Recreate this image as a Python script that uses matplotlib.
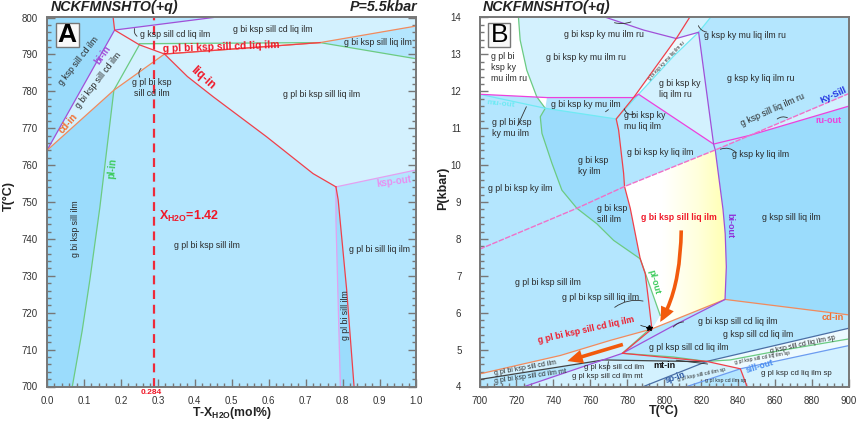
import matplotlib
matplotlib.use('Agg')
import matplotlib.pyplot as plt
from matplotlib.colors import LinearSegmentedColormap
from matplotlib.patches import FancyArrowPatch, Polygon, Rectangle
from matplotlib.path import Path
from matplotlib.ticker import MultipleLocator
import numpy as np

plt.rcParams['font.family'] = ['Liberation Sans', 'DejaVu Sans']
plt.rcParams['mathtext.fontset'] = 'custom'
plt.rcParams['mathtext.rm'] = 'Liberation Sans:bold'
plt.rcParams['mathtext.bf'] = 'Liberation Sans:bold'

DARK = '#9BDCFC'
MID = '#B4E6FE'
LIGHT = '#D3F1FE'
PALE = '#EDFAFF'
RED = '#F0404A'
GREEN = '#6CCB82'
ORANGE = '#F28A5C'
PURPLE = '#A050D8'
PINK = '#E4A0F0'
MAGENTA = '#EE40DC'
CYAN = '#70EAF4'
TXT = '#2A2A2A'

# panel A boundaries (X, T)
a_liq_top = [(0.179, 800), (0.183, 796.6), (0.25, 792.6), (0.318, 790.1)]
a_liq_in = [(0.318, 790.1), (0.38, 784), (0.45, 778.5), (0.594, 767.7), (0.72, 757.7), (0.782, 754.1)]
a_liq_low = [(0.782, 754.1), (0.788, 750.6), (0.811, 726.2), (0.831, 700)]
a_liq_flat = [(0.318, 790.1), (0.739, 793.2)]
a_bi_in = [(0, 764), (0.183, 796.6), (0.45, 800)]
a_cd_in = [(0, 764), (0.181, 780.3), (0.318, 790.1)]
a_cd_right = [(0.318, 790.1), (0.739, 793.2), (1.0, 797.7)]
a_pl_in = [(0.25, 792.6), (0.181, 780.3), (0.143, 748.5), (0.116, 728.9), (0.095, 715), (0.0685, 700)]
a_pl_right = [(0.25, 792.9), (0.739, 793.2), (1.0, 788.8)]
a_ksp_out = [(1.0, 758.7), (0.782, 754.1), (0.782, 745), (0.794, 700)]
a_dash_x = 0.2886

# panel A fields, in draw order
a_fields = [
    (MID, [(0, 700), (1, 700), (1, 800), (0, 800)]),
    (DARK, [(0, 800), (0.179, 800), (0.183, 796.6), (0, 764)]),
    (MID, [(0.179, 800), (0.45, 800), (0.183, 796.6)]),
    (LIGHT, [(0.183, 796.6), (0.45, 800), (1, 800), (1, 797.7), (0.739, 793.2), (0.25, 792.6)]),
    (MID, [(0.739, 793.2), (1, 797.7), (1, 788.8)]),
    (LIGHT, [(0.318, 790.1), (0.739, 793.2), (1, 788.8), (1, 758.7)] + a_liq_in[::-1]),
    (PALE, [(0.25, 792.6), (0.739, 793.2), (0.318, 790.1)]),
    (LIGHT, [(0.25, 792.6), (0.318, 790.1), (0.181, 780.3)]),
    (LIGHT, [(0.183, 796.6), (0.25, 792.6), (0.181, 780.3), (0, 764)]),
    (DARK, [(0, 764), (0.181, 780.3)] + a_pl_in[2:] + [(0, 700)]),
    (DARK, [(0.782, 754.1), (0.782, 745), (0.794, 700), (0.831, 700), (0.811, 726.2), (0.788, 750.6)]),
]

a_labels = [
    ('g ksp sill cd ilm', 0.085, 788.2, 52), ('g bi ksp sill cd ilm', 0.139, 783, 52),
    ('g ksp sill cd liq ilm', 0.347, 795.5, 0), ('g bi ksp sill cd liq ilm', 0.612, 796.7, 0),
    ('g bi ksp sill liq ilm', 0.895, 793.3, 0), ('g pl bi ksp\nsill cd ilm', 0.283, 780.8, 0),
    ('g pl bi ksp sill liq ilm', 0.744, 779, 0), ('g bi ksp sill ilm', 0.076, 742.9, 90),
    ('g pl bi ksp sill ilm', 0.432, 738.3, 0), ('g pl bi sill liq ilm', 0.90, 737, 0),
    ('g pl bi sill ilm', 0.808, 719.4, 90),
]
a_bold = [
    ('bi-in', 0.151, 789.8, 55, PURPLE, 7), ('cd-in', 0.056, 771.3, 48, '#F27030', 7),
    ('pl-in', 0.178, 759, 85, '#3CCB5C', 7), ('liq-in', 0.421, 783.5, -42, '#F01828', 8.5),
    ('g pl bi ksp sill cd liq ilm', 0.4725, 792, 2, '#F01828', 7.4),
    ('ksp-out', 0.939, 755.6, 8, '#E890F0', 7),
]

# panel B boundaries (T, P)
b_green = [(721.1, 14), (722, 13.39), (725.6, 12.57), (731, 11.85), (735.6, 11.54), (732.9, 11.31), (733.8, 10.86),
           (739.2, 10.05), (744.6, 9.32), (752.7, 8.83), (763.5, 8.41), (772.6, 7.96), (787, 7.46)]
b_pl_out = [(787, 7.46), (797.8, 5.93)]
b_cyan_left = [(700, 11.92), (735.6, 11.54), (774, 11.25)]
b_cyan_right = [(774, 11.25), (786.1, 11.92), (805, 12.95), (818.6, 13.6), (825, 14)]
b_magenta = [(700, 11.92), (736.5, 11.83), (783.4, 11.83), (786.1, 11.92), (826.7, 10.57), (846.6, 10.81), (900, 11.6)]
b_kysill = [(700, 7.72), (752.7, 8.83), (778.5, 9.42), (827.6, 10.41), (846.6, 10.81), (900, 11.94)]
b_red = [(813.7, 14), (806.5, 13.43), (783.4, 11.83), (774, 11.25), (775.3, 10.95), (778, 9.78), (778.5, 9.42),
         (781.6, 8.83), (787, 7.46), (789.7, 7.06), (791.5, 6.33), (793.3, 5.56)]
b_red_wedge = [(793.3, 5.56), (777.4, 4.9)]
b_red_low = [(777.4, 4.9), (823, 4.68), (841.2, 4.48), (844.8, 4.0)]
b_purple = [(768.6, 14), (788.8, 13.66), (806.5, 13.43), (818.6, 13.6), (826.7, 10.57), (827.6, 10.41),
            (831.8, 8.8), (833, 8.14), (833.6, 7.24), (832.9, 6.36), (805, 5.65), (777.4, 4.9), (724.4, 4)]
b_orange = [(700, 4.34), (743.7, 4.84), (770.8, 5.25), (793.3, 5.56), (832.9, 6.36), (900, 5.94)]
b_mt_in = [(700, 4.19), (767.2, 4.72), (823, 4.67)]
b_green_low = [(777.4, 4.9), (805, 4.8), (823, 4.68), (835.7, 4.72), (860, 4.95), (900, 5.29)]
b_green_wedge = [(778, 4.93), (793.3, 5.61)]
b_sp_in = [(788.8, 4), (823, 4.68), (900, 5.58)]
b_sill_out = [(812.3, 4), (841.2, 4.48), (900, 5.11)]

b_fields = [
    (MID, [(700, 4), (900, 4), (900, 14), (700, 14)]),
    ('#FFFFFF', [(700, 14)] + b_green[:5] + [(736.5, 11.83), (700, 11.92)]),
    (LIGHT, b_green[:4] + [(733.5, 11.83), (783.4, 11.83), (806.5, 13.43), (813.7, 14)]),
    (DARK, b_green[4:] + [(781.6, 8.83), (778.5, 9.42), (778, 9.78), (775.3, 10.95), (774, 11.25)]),
    (LIGHT, [(786.1, 11.92), (805, 12.95), (818.6, 13.6), (826.7, 10.57)]),
    (PALE, [(783.4, 11.83), (786.1, 11.92), (805, 12.95), (818.6, 13.6), (806.5, 13.43)]),
    (LIGHT, [(813.7, 14), (825, 14), (818.6, 13.6), (806.5, 13.43)]),
    (DARK, [(827.6, 10.41), (846.6, 10.81), (900, 11.6), (900, 5.94), (832.9, 6.36), (833.6, 7.24), (833, 8.14), (831.8, 8.8)]),
    (LIGHT, [(846.6, 10.81), (900, 11.94), (900, 11.6)]),
    (LIGHT, [(787, 7.46), (797.8, 5.93), (793.3, 5.56), (791.5, 6.33), (789.7, 7.06)]),
    (LIGHT, [(700, 4.34), (743.7, 4.84), (770.8, 5.25), (793.3, 5.56), (777.4, 4.9), (767.2, 4.72), (700, 4.19)]),
    (LIGHT, [(724.4, 4), (788.8, 4), (823, 4.68), (767.2, 4.72), (777.4, 4.9)]),
    (LIGHT, [(788.8, 4), (812.3, 4), (841.2, 4.48), (823, 4.68)]),
    (PALE, [(823, 4.68), (900, 5.58), (900, 5.29), (860, 4.95), (835.7, 4.72)]),
    (PALE, [(823, 4.68), (835.7, 4.72), (860, 4.95), (900, 5.29), (900, 5.11), (841.2, 4.48)]),
    (LIGHT, [(844.8, 4), (900, 4), (900, 5.11), (841.2, 4.48)]),
]
# white to yellow field g bi ksp sill liq ilm
b_yellow = [(778.5, 9.42), (827.6, 10.41), (831.8, 8.8), (833, 8.14), (833.6, 7.24), (832.9, 6.36), (793.3, 5.56),
            (797.8, 5.93), (787, 7.46), (781.6, 8.83)]

b_labels = [
    ('g bi ksp ky mu ilm ru', 767.3, 13.54, 0, 6.3), ('g ksp ky mu liq ilm ru', 843.7, 13.5, 0, 6.3),
    ('g bi ksp ky mu ilm ru', 757.8, 12.92, 0, 6.3), ('g ksp ky liq ilm ru', 852.3, 12.35, 0, 6.3),
    ('g bi ksp ky mu liq ilm ru', 801.4, 12.82, 47, 3.4), ('g bi ksp ky mu ilm', 757.6, 11.65, 0, 6.3),
    ('g ksp sill liq ilm ru', 858.8, 11.49, 24, 6.3), ('g bi ksp ky liq ilm', 797.8, 10.35, 0, 6.3),
    ('g ksp ky liq ilm', 852, 10.29, 0, 6.3), ('g pl bi ksp ky ilm', 722, 9.37, 0, 6.3),
    ('g ksp sill liq ilm', 868.8, 8.57, 0, 6.3), ('g pl bi ksp sill ilm', 736.8, 6.82, 0, 6.3),
    ('g pl bi ksp sill liq ilm', 765.7, 6.42, 0, 6.3), ('g bi ksp sill cd liq ilm', 840, 5.76, 0, 6.3),
    ('g ksp sill cd liq ilm', 851, 5.4, 0, 6.3), ('g pl ksp sill cd liq ilm', 813, 5.07, 0, 6.3),
    ('g ksp sill cd liq ilm sp', 875, 5.14, 12, 5), ('g pl ksp sill cd liq ilm sp', 853, 4.78, 10, 3.8),
    ('g pl ksp cd liq ilm sp', 871.3, 4.34, 0, 5.7), ('g pl ksp sill cd ilm sp', 819.9, 4.33, 12, 3.8),
    ('g pl ksp cd ilm sp', 833, 4.15, 0, 3.8), ('g pl bi ksp sill cd ilm', 724.7, 4.5, 10, 5),
    ('g pl bi ksp sill cd ilm mt', 727.8, 4.28, 8, 5), ('g pl ksp sill cd ilm', 773.1, 4.51, 0, 5.5),
    ('g pl ksp sill cd ilm mt', 769, 4.27, 0, 5.5),
]
b_left_labels = [
    ('g pl bi\nksp ky\nmu ilm ru', 706.1, 12.64), ('g bi ksp ky\nliq ilm ru', 797.1, 12.06),
    ('g pl bi ksp\nky mu ilm', 706.9, 11.01), ('g bi ksp ky\nmu liq ilm', 778.2, 11.2),
    ('g bi ksp\nky ilm', 753.1, 9.98), ('g bi ksp\nsill ilm', 763.4, 8.67),
]
b_bold = [
    ('mu-out', 711.7, 11.65, -6, CYAN, 6), ('Ky-Sill', 891.7, 11.9, 24, '#2030E0', 6.5),
    ('ru-out', 888.6, 11.22, 0, MAGENTA, 6.5), ('g bi ksp sill liq ilm', 807.8, 8.59, 0, '#F01828', 6.3),
    ('bi-out', 835.7, 8.37, -90, '#9030D8', 6.5), ('pl-out', 794.6, 6.83, -75, '#3CCB5C', 6.5),
    ('g pl bi ksp sill cd liq ilm', 757.8, 5.54, 12.5, '#F01828', 6.2), ('cd-in', 891.3, 5.86, 0, '#F27030', 6.7),
    ('mt-in', 800.2, 4.57, 0, '#111111', 6.5), ('sill-out', 851.6, 4.54, 17, '#4C8EF0', 6.2),
    ('sp-in', 806, 4.25, 18, '#2A55A0', 6.2),
]
b_leaders = [
    ((783.4, 13.91), (771.6, 13.88), 0.2), ((818, 13.85), (824.5, 13.6), -0.4), ((771, 11.55), (767, 11.4), 0),
    ((778, 11.6), (785, 11.4), -0.6), ((726, 11.65), (720, 11.0), 0), ((860, 11.2), (868, 11.25), 0.4),
    ((829, 10.4), (840, 10.28), 0.4), ((772, 6.1), (790, 6.3), 0.25), ((786, 5.7), (791.5, 5.62), -0.2),
    ((804, 5.55), (812, 5.75), 0.3), ((825, 4.6), (805, 4.72), 0), ((769, 4.4), (770, 4.75), 0),
]

fig = plt.figure(figsize=(8.58, 4.21), dpi=100)
axA = fig.add_axes([47 / 858, 1 - 386.5 / 421, 369.5 / 858, 369 / 421])
axB = fig.add_axes([479.5 / 858, 1 - 386.5 / 421, 369.5 / 858, 369 / 421])


def draw_line(ax, pts, color, lw=0.9, **kw):
    ax.plot([p[0] for p in pts], [p[1] for p in pts], color=color, lw=lw, solid_joinstyle='round', **kw)


def style_axes(ax):
    ax.tick_params(which='major', direction='in', length=6, width=1, color='#777777', labelsize=7,
                   labelcolor='#333333', pad=7)
    ax.tick_params(which='minor', direction='in', length=3, width=1, color='#777777')
    for s in ax.spines.values():
        s.set_color('#777777')
        s.set_linewidth(1.4)
        s.set_zorder(10)


# panel A
for color, pts in a_fields:
    axA.add_patch(Polygon(pts, closed=True, fc=color, ec='none'))
draw_line(axA, a_pl_in, GREEN)
draw_line(axA, a_pl_right, GREEN)
draw_line(axA, a_ksp_out, PINK)
draw_line(axA, a_bi_in, PURPLE)
draw_line(axA, a_cd_in, ORANGE)
draw_line(axA, a_cd_right, ORANGE)
draw_line(axA, a_liq_top, RED)
draw_line(axA, a_liq_in, RED)
draw_line(axA, a_liq_low, RED)
draw_line(axA, a_liq_flat, RED)
axA.plot([a_dash_x, a_dash_x], [700, 800], color='#EE2A3A', lw=1.6, ls=(0, (4, 2.6)))
for s, x, y, rot in a_labels:
    axA.text(x, y, s, fontsize=6.3, color=TXT, rotation=rot, ha='center', va='center', linespacing=1.25)
for s, x, y, rot, c, fs in a_bold:
    axA.text(x, y, s, fontsize=fs, color=c, rotation=rot, ha='center', va='center', fontweight='bold',
             rotation_mode='anchor')
axA.text(0.303, 746.2, r'$\mathbf{X_{H2O}}$=1.42', fontsize=9, color='#F01828', fontweight='bold', va='center')
axA.text(0.281, 698.4, '0.284', fontsize=6, color='#F01828', fontweight='bold', ha='center', va='center',
         clip_on=False)
axA.annotate('', xy=(0.25, 794.5), xytext=(0.24, 797.7),
             arrowprops=dict(arrowstyle='-', lw=0.6, color='#333333', connectionstyle='arc3,rad=0.5'))
axA.annotate('', xy=(0.255, 783.2), xytext=(0.26, 786.7),
             arrowprops=dict(arrowstyle='-', lw=0.6, color='#333333', connectionstyle='arc3,rad=0.5'))
axA.set_xlim(0, 1)
axA.set_ylim(700, 800)
axA.xaxis.set_major_locator(MultipleLocator(0.1))
axA.xaxis.set_minor_locator(MultipleLocator(0.02))
axA.yaxis.set_major_locator(MultipleLocator(10))
axA.yaxis.set_minor_locator(MultipleLocator(2))
axA.yaxis.set_ticks_position('both')
style_axes(axA)
axA.set_xlabel(r'T-X$_{\mathbf{H2O}}$(mol%)', fontsize=8.8, fontweight='bold', color='#222222')
axA.xaxis.set_label_coords(0.5, -0.05)
axA.set_ylabel('T(°C)', fontsize=9, fontweight='bold', color='#222222')
axA.yaxis.set_label_coords(-0.088, 0.516)

# panel B
for color, pts in b_fields:
    axB.add_patch(Polygon(pts, closed=True, fc=color, ec='none'))
white_yellow = LinearSegmentedColormap.from_list('wy', [(0, '#FFFFFF'), (0.45, '#FFFFFF'), (0.75, '#FFFFDC'), (1, '#FFFFB0')])
grad = np.linspace(0, 1, 200).reshape(1, -1)
im = axB.imshow(grad, cmap=white_yellow, extent=(770, 834, 5, 11), aspect='auto', zorder=1.5)
clip = Polygon(b_yellow, closed=True, fc='none', ec='none', transform=axB.transData)
axB.add_patch(clip)
im.set_clip_path(clip)
for pts, c in [(b_green, GREEN), (b_pl_out, GREEN), (b_green_wedge, GREEN), (b_green_low, GREEN),
               (b_cyan_left, CYAN), (b_cyan_right, CYAN), (b_magenta, MAGENTA), (b_orange, ORANGE),
               (b_mt_in, '#444444'), (b_sp_in, '#4A6FA5'), (b_sill_out, '#6C9CF0'), (b_purple, PURPLE),
               (b_red, RED), (b_red_wedge, RED), (b_red_low, RED)]:
    draw_line(axB, pts, c, zorder=2)
draw_line(axB, b_kysill, '#F070C8', lw=1.0, ls=(0, (4, 1)), zorder=2)
for s, x, y, rot, fs in b_labels:
    axB.text(x, y, s, fontsize=fs, color=TXT, rotation=rot, ha='center', va='center', zorder=4)
for s, x, y in b_left_labels:
    axB.text(x, y, s, fontsize=6.3, color=TXT, ha='left', va='center', linespacing=1.25, zorder=4)
for s, x, y, rot, c, fs in b_bold:
    axB.text(x, y, s, fontsize=fs, color=c, rotation=rot, ha='center', va='center', fontweight='bold',
             rotation_mode='anchor', zorder=4)
for a, b, rad in b_leaders:
    axB.annotate('', xy=a, xytext=b, zorder=3,
                 arrowprops=dict(arrowstyle='-', lw=0.6, color='#333333', connectionstyle=f'arc3,rad={rad}'))
axB.plot([792], [5.59], marker='*', ms=4, color='black', zorder=5)
big_arrow = Path([(809.2, 8.23), (808.7, 6.6), (797.8, 5.75)], [Path.MOVETO, Path.CURVE3, Path.CURVE3])
axB.add_patch(FancyArrowPatch(path=big_arrow, arrowstyle='simple,head_width=10,head_length=11,tail_width=2.6',
                              fc='#F25A0C', ec='none', zorder=3))
axB.add_patch(FancyArrowPatch((777.6, 5.14), (747.6, 4.69), arrowstyle='simple,head_width=10,head_length=11,tail_width=2.6',
                              fc='#F25A0C', ec='none', zorder=3, shrinkA=0, shrinkB=0))
axB.set_xlim(700, 900)
axB.set_ylim(4, 14)
axB.xaxis.set_major_locator(MultipleLocator(20))
axB.xaxis.set_minor_locator(MultipleLocator(4))
axB.yaxis.set_major_locator(MultipleLocator(1))
axB.yaxis.set_minor_locator(MultipleLocator(0.2))
style_axes(axB)
axB.tick_params(axis='y', which='major', pad=13)
axB.set_xlabel('T(°C)', fontsize=9, fontweight='bold', color='#222222')
axB.xaxis.set_label_coords(0.4985, -0.05)
axB.set_ylabel('P(kbar)', fontsize=9, fontweight='bold', color='#222222')
axB.yaxis.set_label_coords(-0.083, 0.538)

# titles and panel letters
fig.text(51 / 858, 1 - 7 / 421, 'NCKFMNSHTO(+q)', fontsize=10.3, fontweight='bold', fontstyle='italic',
         color='#222222', va='center')
fig.text(483 / 858, 1 - 7 / 421, 'NCKFMNSHTO(+q)', fontsize=10.3, fontweight='bold', fontstyle='italic',
         color='#222222', va='center')
fig.text(417 / 858, 1 - 7 / 421, 'P=5.5kbar', fontsize=10.3, fontweight='bold', fontstyle='italic',
         color='#222222', va='center', ha='right')
for x0, letter, weight in [(56, 'A', 'bold'), (488, 'B', 'normal')]:
    fig.add_artist(Rectangle((x0 / 858, 1 - 46.5 / 421), 22.5 / 858, 24 / 421, transform=fig.transFigure,
                             fc='#F8F8F8', ec='#777777', lw=1, zorder=5))
    fig.text((x0 + 11.2) / 858, 1 - 34.5 / 421, letter, fontsize=19, fontweight=weight, color='black',
             ha='center', va='center', zorder=6)

fig.savefig('out.png', dpi=100)
